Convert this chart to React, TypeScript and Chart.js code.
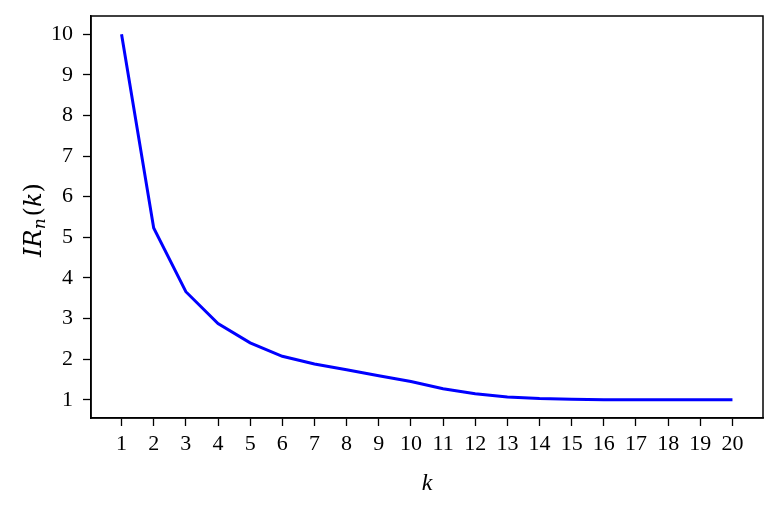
import React, { useEffect, useRef } from "react";
import { Chart, registerables } from "chart.js";

Chart.register(...registerables);

const kValues = [1, 2, 3, 4, 5, 6, 7, 8, 9, 10, 11, 12, 13, 14, 15, 16, 17, 18, 19, 20];
const irValues = [10.0, 5.23, 3.66, 2.875, 2.4, 2.07, 1.88, 1.74, 1.59, 1.45, 1.27, 1.15, 1.07, 1.03, 1.01, 1.0, 1.0, 1.0, 1.0, 1.0];
const xTickValues = [1, 2, 3, 4, 5, 6, 7, 8, 9, 10, 11, 12, 13, 14, 15, 16, 17, 18, 19, 20];
const yTickValues = [1, 2, 3, 4, 5, 6, 7, 8, 9, 10];

const FONT = "'Liberation Serif', 'DejaVu Serif', serif";
const LABEL_FONT = "'DejaVu Serif', serif";

const frameAndLabel = {
  id: "frameAndLabel",
  afterDraw(chart: any) {
    const { ctx, chartArea } = chart;
    ctx.save();
    ctx.strokeStyle = "#000";
    ctx.lineWidth = 1.5;
    ctx.strokeRect(chartArea.left, chartArea.top, chartArea.right - chartArea.left, chartArea.bottom - chartArea.top);
    // y-axis label IR_n(k)
    ctx.translate(41, 220);
    ctx.rotate(-Math.PI / 2);
    ctx.fillStyle = "#000";
    ctx.textBaseline = "alphabetic";
    ctx.textAlign = "left";
    const parts = [
      { t: "IR", f: `italic 24px ${LABEL_FONT}`, dy: 0 },
      { t: "n", f: `italic 17px ${LABEL_FONT}`, dy: 4 },
      { t: "(", f: `24px ${LABEL_FONT}`, dy: 0, pre: 2 },
      { t: "k", f: `italic 24px ${LABEL_FONT}`, dy: 0 },
      { t: ")", f: `24px ${LABEL_FONT}`, dy: 0 },
    ];
    let total = 0;
    const widths: number[] = [];
    parts.forEach((p: any) => {
      ctx.font = p.f;
      const w = ctx.measureText(p.t).width + (p.pre || 0);
      widths.push(w);
      total += w;
    });
    let x = -total / 2;
    parts.forEach((p: any, i) => {
      ctx.font = p.f;
      ctx.fillText(p.t, x + (p.pre || 0), p.dy);
      x += widths[i];
    });
    ctx.restore();
  },
};

export default function App() {
  const ref = useRef<HTMLCanvasElement>(null);
  useEffect(() => {
    if (!ref.current) return;
    const chart = new Chart(ref.current, {
      type: "line",
      data: {
        datasets: [
          {
            data: kValues.map((k, i) => ({ x: k, y: irValues[i] })),
            borderColor: "#0000ff",
            borderWidth: 3,
            pointRadius: 0,
            tension: 0,
            fill: false,
          },
        ],
      },
      options: {
        responsive: false,
        animation: false,
        layout: { padding: { left: 0, top: 16, right: 18, bottom: 0 } },
        plugins: { legend: { display: false }, tooltip: { enabled: false } },
        scales: {
          x: {
            type: "linear",
            min: 0.05,
            max: 20.95,
            afterBuildTicks: (s: any) => {
              s.ticks = xTickValues.map((v) => ({ value: v }));
            },
            afterFit: (s: any) => {
              s.height = 87;
              s.paddingLeft = 0;
              s.paddingRight = 0;
            },
            grid: { drawOnChartArea: false, drawTicks: true, tickLength: 8, tickColor: "#000", tickWidth: 1.3 },
            border: { display: true, color: "#000", width: 1.5 },
            ticks: { color: "#000", padding: 5, maxRotation: 0, autoSkip: false, font: { family: FONT, size: 22 } },
            title: { display: true, text: "k", color: "#000", padding: { top: 7, bottom: 7 }, font: { family: FONT, size: 24, style: "italic" } },
          },
          y: {
            type: "linear",
            min: 0.55,
            max: 10.45,
            afterBuildTicks: (s: any) => {
              s.ticks = yTickValues.map((v) => ({ value: v }));
            },
            afterFit: (s: any) => {
              s.width = 91;
              s.paddingTop = 0;
              s.paddingBottom = 0;
            },
            grid: { drawOnChartArea: false, drawTicks: true, tickLength: 8, tickColor: "#000", tickWidth: 1.3 },
            border: { display: true, color: "#000", width: 1.5 },
            ticks: { color: "#000", padding: 10, autoSkip: false, font: { family: FONT, size: 22 } },
          },
        },
      },
      plugins: [frameAndLabel],
    });
    return () => chart.destroy();
  }, []);
  return (
    <div style={{ position: "fixed", left: 0, top: 0, width: 781, height: 505, background: "#fff" }}>
      <canvas ref={ref} width={781} height={505} />
    </div>
  );
}
